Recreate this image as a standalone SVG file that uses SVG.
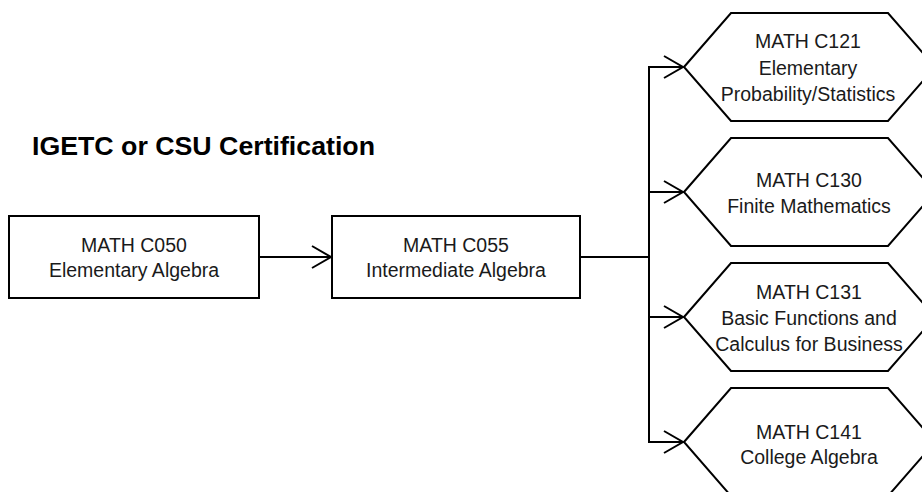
<svg xmlns="http://www.w3.org/2000/svg" width="922" height="492" viewBox="0 0 922 492">
  <style>
    .shape { fill: #ffffff; stroke: #000000; stroke-width: 2; }
    .conn { fill: none; stroke: #000000; stroke-width: 2; }
    .lbl { font-family: "Liberation Sans", Arial, sans-serif; font-size: 19.5px; fill: #1a1a1a; text-anchor: middle; }
    .title { font-family: "Liberation Sans", Arial, sans-serif; font-size: 25px; font-weight: bold; fill: #000000; }
  </style>
  <defs>
    <marker id="arr" markerWidth="24" markerHeight="26" refX="20" refY="12" orient="auto" markerUnits="userSpaceOnUse">
      <path d="M1,1 L20,12 L1,23" fill="none" stroke="#000" stroke-width="2"/>
    </marker>
  </defs>
  <rect width="922" height="492" fill="#ffffff"/>

  <text class="title" x="32" y="155" textLength="343" lengthAdjust="spacingAndGlyphs">IGETC or CSU Certification</text>

  <g id="connectors">
    <line class="conn" x1="259" y1="257" x2="331" y2="257" marker-end="url(#arr)"/>
    <polyline class="conn" points="580,257 649,257"/>
    <line class="conn" x1="649" y1="66" x2="649" y2="443"/>
    <line class="conn" x1="648" y1="67" x2="683" y2="67" marker-end="url(#arr)"/>
    <line class="conn" x1="648" y1="192" x2="683" y2="192" marker-end="url(#arr)"/>
    <line class="conn" x1="648" y1="317" x2="683" y2="317" marker-end="url(#arr)"/>
    <line class="conn" x1="648" y1="442" x2="683" y2="442" marker-end="url(#arr)"/>
  </g>

  <g id="math-c050">
    <rect class="shape" x="9" y="216" width="250" height="82"/>
    <text class="lbl" x="134" y="252">MATH C050</text>
    <text class="lbl" x="134" y="277">Elementary Algebra</text>
  </g>

  <g id="math-c055">
    <rect class="shape" x="332" y="216" width="248" height="82"/>
    <text class="lbl" x="456" y="252">MATH C055</text>
    <text class="lbl" x="456" y="277">Intermediate Algebra</text>
  </g>

  <g id="math-c121">
    <polygon class="shape" points="684,67 731,13 888,13 935,67 888,121 731,121"/>
    <text class="lbl" x="808" y="48">MATH C121</text>
    <text class="lbl" x="808" y="74.5">Elementary</text>
    <text class="lbl" x="808" y="100.5">Probability/Statistics</text>
  </g>

  <g id="math-c130">
    <polygon class="shape" points="684,192 731,138 888,138 935,192 888,246 731,246"/>
    <text class="lbl" x="809" y="187">MATH C130</text>
    <text class="lbl" x="809" y="212.5">Finite Mathematics</text>
  </g>

  <g id="math-c131">
    <polygon class="shape" points="684,317 731,263 888,263 935,317 888,371 731,371"/>
    <text class="lbl" x="809" y="298.5">MATH C131</text>
    <text class="lbl" x="809" y="325">Basic Functions and</text>
    <text class="lbl" x="809" y="351">Calculus for Business</text>
  </g>

  <g id="math-c141">
    <polygon class="shape" points="684,442 731,388 888,388 935,442 888,496 731,496"/>
    <text class="lbl" x="809" y="438.5">MATH C141</text>
    <text class="lbl" x="809" y="463.5">College Algebra</text>
  </g>
</svg>
